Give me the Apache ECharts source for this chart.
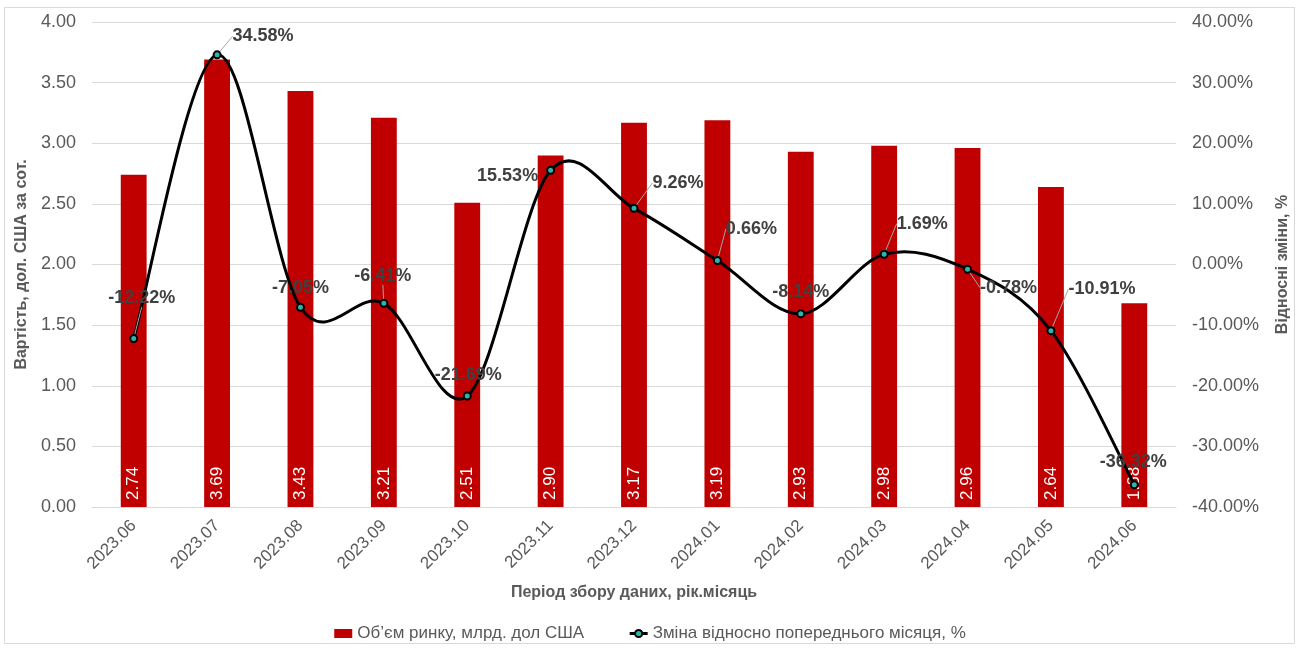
<!DOCTYPE html>
<html>
<head>
<meta charset="utf-8">
<script src="https://cdn.jsdelivr.net/npm/echarts@6/dist/echarts.min.js"></script>
<style>html,body{margin:0;padding:0;background:#fff}#c{width:1300px;height:648px}</style>
</head>
<body>
<div id="c"></div>
<script>
const categories = ['2023.06','2023.07','2023.08','2023.09','2023.10','2023.11','2023.12','2024.01','2024.02','2024.03','2024.04','2024.05','2024.06'];
const marketVolume = [2.74,3.69,3.43,3.21,2.51,2.90,3.17,3.19,2.93,2.98,2.96,2.64,1.68];
const monthlyChange = [-12.22,34.58,-7.05,-6.41,-21.69,15.53,9.26,0.66,-8.14,1.69,-0.78,-10.91,-36.32];
const leftTicks = {min:0, max:4, interval:0.5};
const rightTicks = {min:-40, max:40, interval:10};
const barName = 'Об’єм ринку, млрд. дол США';
const lineName = 'Зміна відносно попереднього місяця, %';

// label placement (styling only)
const labelShift = [[8,-22],[46,0],[0,-1],[-1,-9],[1,-2],[-43,24],[44,-7],[34,-13],[0,-3],[38,-12],[41,37],[51,-23],[-1,-4]];
const withLine = [true,true,false,true,false,false,true,true,false,true,true,true,false];

const FF = '"Liberation Sans", Arial, sans-serif';
const chart = echarts.init(document.getElementById('c'));

// smooth curve through the data points (Catmull-Rom style bezier, drawn via axis coords)
function renderCurve(params, api){
  const n = monthlyChange.length;
  const i = params.dataIndex;
  if (i >= n-1) return null;
  const P = j => { j = Math.max(0, Math.min(n-1, j)); return api.coord([j, monthlyChange[j]]); };
  const p0 = P(i-1), p1 = P(i), p2 = P(i+1), p3 = P(i+2);
  const k = 1/6;
  return {
    type:'bezierCurve',
    shape:{x1:p1[0],y1:p1[1],x2:p2[0],y2:p2[1],
      cpx1:p1[0]+(p2[0]-p0[0])*k, cpy1:p1[1]+(p2[1]-p0[1])*k,
      cpx2:p2[0]-(p3[0]-p1[0])*k, cpy2:p2[1]-(p3[1]-p1[1])*k},
    style:{stroke:'#000',lineWidth:3,fill:null},
    silent:true
  };
}

chart.setOption({
  animation:false,
  textStyle:{fontFamily:FF},
  graphic:[{type:'rect',shape:{x:4.5,y:7.5,width:1290,height:636},style:{fill:'none',stroke:'#d9d9d9',lineWidth:1},silent:true}],
  grid:{left:92,right:124,top:22,bottom:141},
  legend:{
    top:620,left:'center',itemGap:44,itemWidth:18,itemHeight:9,
    textStyle:{fontSize:17,color:'#595959',fontFamily:FF},
    data:[{name:barName,icon:'rect'},{name:lineName,lineStyle:{color:'#000',width:3,opacity:1}}]
  },
  xAxis:{
    type:'category',data:categories,
    name:'Період збору даних, рік.місяць',nameLocation:'middle',nameGap:78,
    nameTextStyle:{fontSize:16,fontWeight:'bold',color:'#595959'},
    axisLine:{lineStyle:{color:'#d9d9d9'}},axisTick:{show:false},
    axisLabel:{rotate:45,fontSize:17,color:'#595959',margin:16}
  },
  yAxis:[{
    type:'value',min:leftTicks.min,max:leftTicks.max,interval:leftTicks.interval,
    name:'Вартість, дол. США за сот.',nameLocation:'middle',nameGap:62,
    nameTextStyle:{fontSize:16,fontWeight:'bold',color:'#595959'},
    axisLine:{show:false},axisTick:{show:false},
    splitLine:{lineStyle:{color:'#d9d9d9'}},
    axisLabel:{fontSize:18,color:'#595959',margin:16,formatter:v=>v.toFixed(2)}
  },{
    type:'value',min:rightTicks.min,max:rightTicks.max,interval:rightTicks.interval,
    name:'Відносні зміни, %',nameLocation:'middle',nameGap:99,
    nameTextStyle:{fontSize:16,fontWeight:'bold',color:'#595959'},
    axisLine:{show:false},axisTick:{show:false},splitLine:{show:false},
    axisLabel:{fontSize:18,color:'#595959',margin:16,formatter:v=>v.toFixed(2)+'%'}
  }],
  series:[{
    name:barName,type:'bar',yAxisIndex:0,data:marketVolume,barWidth:'31%',
    itemStyle:{color:'#C00000'},
    label:{show:true,position:'insideBottom',rotate:90,align:'left',verticalAlign:'middle',distance:7,
      color:'#fff',fontSize:17,formatter:p=>p.value.toFixed(2)}
  },{
    type:'custom',yAxisIndex:1,renderItem:renderCurve,
    data:monthlyChange.map((v,i)=>[i,v]),encode:{x:0,y:1},z:4,silent:true
  },{
    name:lineName,type:'line',yAxisIndex:1,
    data:monthlyChange.map((v,i)=>({value:v,labelLine:{show:withLine[i]}})),
    symbol:'circle',symbolSize:7,
    lineStyle:{color:'#000',width:3,opacity:0},
    itemStyle:{color:'#2bb5ae',borderColor:'#000',borderWidth:2},
    label:{show:true,position:'top',distance:5,fontSize:18,fontWeight:'bold',color:'#404040',
      formatter:p=>p.value.toFixed(2)+'%'},
    labelLine:{lineStyle:{color:'#a6a6a6',width:1}},
    labelLayout:p=>({dx:labelShift[p.dataIndex][0],dy:labelShift[p.dataIndex][1]}),
    z:5
  }]
});
</script>
</body>
</html>
